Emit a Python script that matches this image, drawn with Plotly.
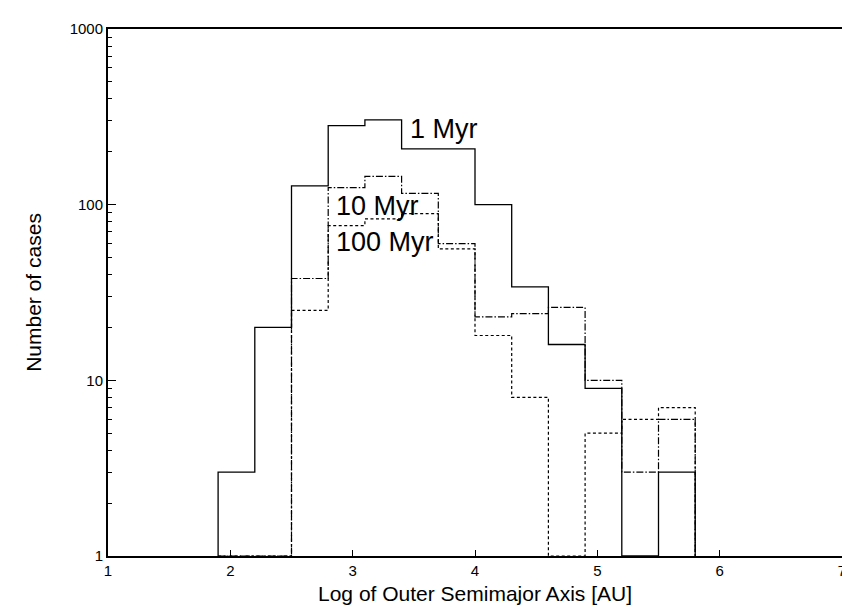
import math
import plotly.graph_objects as go

# bin edges (log of outer semimajor axis, AU) and counts
edges = [1.9, 2.2, 2.5, 2.8, 3.1, 3.4, 3.7, 4.0, 4.3, 4.6, 4.9, 5.2, 5.5, 5.8]
counts_1myr = [3, 20, 128, 282, 304, 208, 208, 100, 34, 16, 9, 0, 3]
counts_10myr = [0, 0, 38, 125, 145, 116, 60, 23, 24, 26, 10, 3, 6]
counts_100myr = [0, 0, 25, 76, 83, 89, 56, 18, 8, 0, 5, 6, 7]

labels = ["1 Myr", "10 Myr", "100 Myr"]
ytick_vals = [1, 10, 100, 1000]
ytick_minor = [2, 3, 4, 5, 6, 7, 8, 9, 20, 30, 40, 50, 60, 70, 80, 90,
               200, 300, 400, 500, 600, 700, 800, 900]
xtick_vals = [1, 2, 3, 4, 5, 6, 7]

FONT = "Liberation Sans, Arial, Helvetica, sans-serif"
FLOOR = 1  # bottom of the log axis, empty bins are drawn down to it


def outline(counts):
    c = [max(v, FLOOR) for v in counts]
    xs = [edges[0]] + edges[:-1] + [edges[-1], edges[-1]]
    ys = [FLOOR] + c + [c[-1], FLOOR]
    return xs, ys


fig = go.Figure()
styles = [
    (counts_1myr, "solid", 1.3),
    (counts_10myr, "7px,2px,1.5px,2px", 1.2),
    (counts_100myr, "3px,2.5px", 1.2),
]
for (counts, dash, w), name in zip(styles, labels):
    xs, ys = outline(counts)
    fig.add_trace(go.Scatter(
        x=xs, y=ys, mode="lines", name=name,
        line=dict(color="black", width=w, dash=dash, shape="hv"),
        showlegend=False,
    ))

# curve labels
fig.add_annotation(x=3.45, y=math.log10(268), text="1 Myr", showarrow=False,
                   xanchor="left", yanchor="middle", font=dict(size=27))
fig.add_annotation(x=2.85, y=math.log10(98), text="10 Myr", showarrow=False,
                   xanchor="left", yanchor="middle", font=dict(size=27))
fig.add_annotation(x=2.85, y=math.log10(61), text="100 Myr", showarrow=False,
                   xanchor="left", yanchor="middle", font=dict(size=27))

fig.update_layout(
    width=850, height=607,
    margin=dict(l=100, r=12, t=17, b=59),
    paper_bgcolor="white", plot_bgcolor="white",
    font=dict(family=FONT, color="black", size=15),
)
fig.update_xaxes(
    range=[1, 7], tickvals=xtick_vals, ticks="inside", ticklen=6,
    tickwidth=1, tickcolor="black", showgrid=False, zeroline=False,
    showline=True, linecolor="black", linewidth=2, mirror=True,
    tickfont=dict(size=15), ticklabeloverflow="allow",
    title=dict(text="Log of Outer Semimajor Axis [AU]", font=dict(size=21), standoff=8),
)
fig.update_yaxes(
    type="log", range=[0, 3], tickvals=ytick_vals,
    ticktext=[str(v) for v in ytick_vals],
    ticks="inside", ticklen=8, tickwidth=1, tickcolor="black",
    minor=dict(tickvals=ytick_minor, ticks="inside", ticklen=4,
               tickcolor="black", showgrid=False),
    showgrid=False, zeroline=False,
    showline=True, linecolor="black", linewidth=2, mirror=True,
    tickfont=dict(size=15), ticklabeloverflow="allow",
    title=dict(text="Number of cases", font=dict(size=21), standoff=22),
)

fig.write_html("out.html")
